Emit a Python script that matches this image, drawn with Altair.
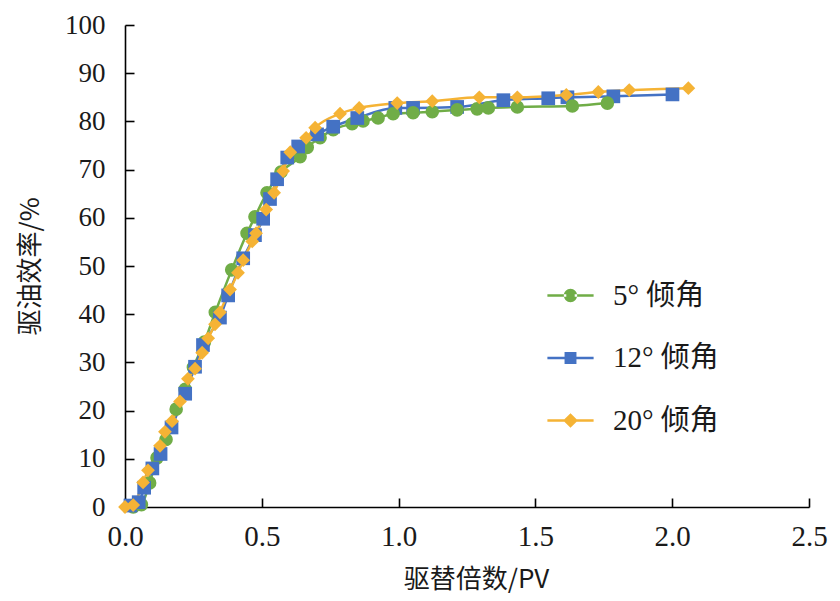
import altair as alt
import pandas as pd

names = ["5° 倾角", "12° 倾角", "20° 倾角"]
colors = ["#70AD47", "#4472C4", "#F5B335"]

s5_x = [0.03, 0.06, 0.09, 0.117, 0.15, 0.187, 0.22, 0.25, 0.29, 0.33, 0.39, 0.446, 0.475,
        0.519, 0.57, 0.64, 0.666, 0.713, 0.761, 0.830, 0.870, 0.925, 0.980, 1.053, 1.123,
        1.214, 1.287, 1.328, 1.434, 1.635, 1.763]
s5_y = [0, 0.5, 5, 10.2, 14, 20.3, 24.4, 29, 34.2, 40.4, 49.2, 56.8, 60.2,
        65.2, 69.5, 72.7, 74.6, 76.6, 78.3, 79.5, 80.1, 80.7, 81.6, 81.8, 82.0,
        82.4, 82.6, 82.8, 83.0, 83.2, 83.8]

s12_x = [0.02, 0.05, 0.07, 0.10, 0.13, 0.17, 0.22, 0.256, 0.285, 0.347, 0.377, 0.432, 0.475,
         0.505, 0.530, 0.556, 0.593, 0.633, 0.702, 0.761, 0.849, 0.988, 1.053, 1.214, 1.383,
         1.547, 1.617, 1.785, 2.001]
s12_y = [0.3, 1, 4, 8, 11, 16.5, 23.5, 29.1, 33.6, 39.3, 43.9, 51.6, 56.4,
         59.8, 63.9, 68.0, 72.5, 74.8, 77.3, 78.9, 80.7, 82.8, 82.8, 83.0, 84.4,
         84.8, 85.0, 85.2, 85.6]

s20_x = [0, 0.03, 0.066, 0.084, 0.128, 0.146, 0.172, 0.201, 0.230, 0.256, 0.282, 0.304, 0.329,
         0.347, 0.384, 0.413, 0.432, 0.465, 0.479, 0.516, 0.545, 0.578, 0.604, 0.662, 0.695,
         0.786, 0.856, 0.995, 1.123, 1.295, 1.434, 1.613, 1.730, 1.843, 2.059]
s20_y = [0, 0.4, 5.1, 7.6, 12.7, 15.6, 17.8, 21.9, 26.6, 28.7, 32.0, 35.0, 37.9,
         40.4, 45.1, 48.6, 51.2, 55.1, 56.8, 61.7, 65.2, 69.7, 73.6, 76.6, 78.7,
         81.6, 82.8, 83.8, 84.2, 85.0, 85.0, 85.5, 86.1, 86.5, 86.9]

x_ticks = [0, 0.5, 1.0, 1.5, 2.0, 2.5]
y_ticks = [0, 10, 20, 30, 40, 50, 60, 70, 80, 90, 100]

rows = []
for name, xs, ys in zip(names, [s5_x, s12_x, s20_x], [s5_y, s12_y, s20_y]):
    for i, (xv, yv) in enumerate(zip(xs, ys)):
        rows.append({"series": name, "x": xv, "y": yv, "i": i})
df = pd.DataFrame(rows)

NUM_FONT = "Liberation Serif"
CJK_FONT = "Noto Sans CJK SC"
TXT = "#1a1a1a"

xscale = alt.Scale(domain=[0, 2.5], nice=False, zero=False)
yscale = alt.Scale(domain=[0, 100], nice=False, zero=False)
cscale = alt.Scale(domain=names, range=colors)

lines = alt.Chart(df).mark_line(interpolate="monotone", strokeWidth=2.5).encode(
    x=alt.X("x:Q", scale=xscale, axis=alt.Axis(
        orient="bottom", values=x_ticks, format=".1f", ticks=False, grid=False,
        domainColor="black", domainWidth=1.6, labelFont=NUM_FONT, labelFontSize=29,
        labelColor=TXT, labelPadding=15, labelFlush=False,
        title="驱替倍数/PV", titleFont=CJK_FONT, titleFontSize=26, titleFontWeight="normal",
        titleColor=TXT, titleX=351, titleY=72, titleBaseline="middle", titleAlign="center")),
    y=alt.Y("y:Q", scale=yscale, axis=alt.Axis(
        orient="left", values=y_ticks, ticks=False, grid=False,
        domainColor="black", domainWidth=1.6, labelFont=NUM_FONT, labelFontSize=27,
        labelColor=TXT, labelPadding=20, labelFlush=False,
        title="驱油效率/%", titleFont=CJK_FONT, titleFontSize=26, titleFontWeight="normal",
        titleColor=TXT, titleX=-95, titleY=241, titleAngle=270,
        titleBaseline="middle", titleAlign="center")),
    color=alt.Color("series:N", scale=cscale, legend=None),
    order="i:Q",
)

points = alt.Chart(df).mark_point(filled=True, opacity=1, strokeWidth=0).encode(
    x=alt.X("x:Q", scale=xscale, axis=alt.Axis(
        orient="bottom", values=x_ticks, labels=False, domain=False, ticks=True,
        tickSize=9, tickColor="black", tickWidth=1.6, offset=-9, grid=False, title=None)),
    y=alt.Y("y:Q", scale=yscale, axis=alt.Axis(
        orient="left", values=y_ticks, labels=False, domain=False, ticks=True,
        tickSize=9, tickColor="black", tickWidth=1.6, offset=-9, grid=False, title=None)),
    color=alt.Color("series:N", scale=cscale, legend=None),
    shape=alt.Shape("series:N", scale=alt.Scale(domain=names, range=["circle", "square", "diamond"]),
                    legend=None),
    size=alt.Size("series:N", scale=alt.Scale(domain=names, range=[185, 190, 215]), legend=None),
    order="i:Q",
)

LINE = "M-3.3,-0.18H-0.6V0.18H-3.3Z M0.6,-0.18H3.3V0.18H0.6Z "
legend_shapes = [
    LINE + "M0.95,0A0.95,0.95 0 1 0 -0.95,0A0.95,0.95 0 1 0 0.95,0Z",
    LINE + "M-0.85,-0.85H0.85V0.85H-0.85Z",
    LINE + "M0,-1.05L1.05,0L0,1.05L-1.05,0Z",
]

leg = dict(orient="none", legendX=431, legendY=256, title=None,
           labelFont=NUM_FONT + ", " + CJK_FONT, labelFontSize=29, labelColor=TXT,
           symbolSize=196, labelOffset=28, rowPadding=32.5)

legend_layer = alt.Chart(df).transform_filter("false").mark_point(
    filled=True, opacity=1, strokeWidth=0).encode(
    x=alt.X("x:Q", scale=xscale, axis=None),
    y=alt.Y("y:Q", scale=yscale, axis=None),
    color=alt.Color("series:N", scale=cscale, legend=alt.Legend(**leg)),
    shape=alt.Shape("series:N", scale=alt.Scale(domain=names, range=legend_shapes),
                    legend=alt.Legend(**leg)),
)

chart = alt.layer(lines, points, legend_layer).resolve_axis(
    x="independent", y="independent").resolve_scale(
    shape="independent", size="independent", color="independent").properties(
    width=684, height=482,
    autosize=alt.AutoSizeParams(type="none"),
    padding={"left": 117, "top": 17, "right": 22, "bottom": 86},
    background="white",
).configure_view(stroke=None)

chart.save("out.html", embed_options={"renderer": "svg", "actions": False})
